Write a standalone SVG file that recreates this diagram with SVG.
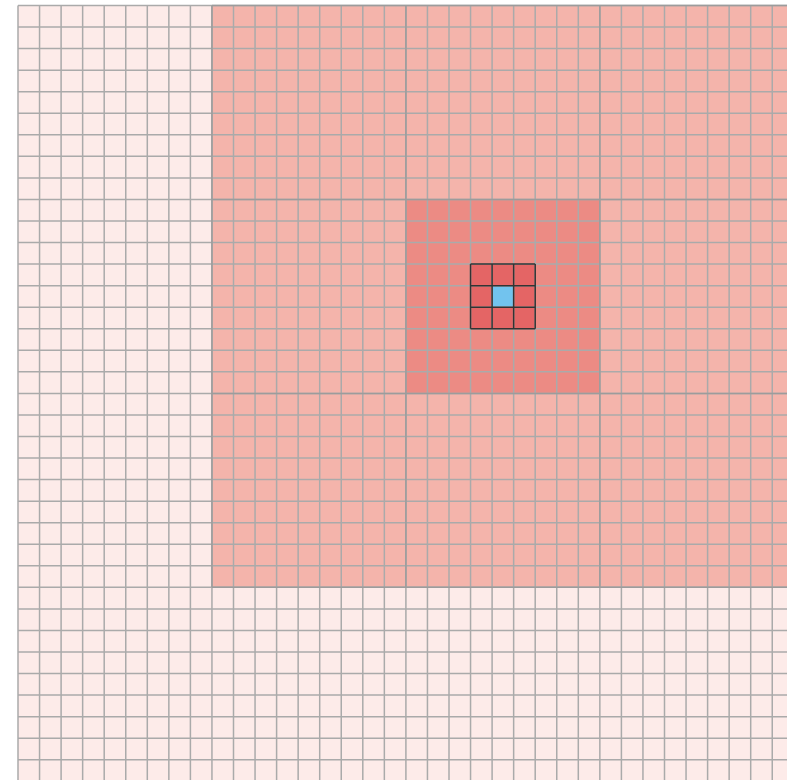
<svg xmlns="http://www.w3.org/2000/svg" width="787" height="780" viewBox="0 0 787 780">
<style>
.light{fill:#fdebe9}
.mid{fill:#f4b4ab}
.core{fill:#ec8b84}
.inner{fill:#e46565}
.blue{fill:#72c3ee}
.grid{stroke:#aaaaaa;stroke-width:1.5;fill:none}
.block{stroke:#9c9c9c;stroke-width:1.5;fill:none}
.dark{stroke:#333333;stroke-width:1.5;fill:none}
</style>
<rect width="787" height="780" fill="#ffffff"/>
<g id="background">
<rect class="light" x="18" y="5.5" width="776" height="776"/>
</g>
<g id="outer-region">
<rect class="mid" x="211.95" y="5.5" width="582" height="581.85"/>
</g>
<g id="center-region">
<rect class="core" x="405.9" y="199.45" width="193.95" height="193.95"/>
</g>
<g id="neighbourhood">
<rect class="inner" x="470.55" y="264.1" width="64.65" height="64.65"/>
<rect class="blue" x="492.1" y="285.65" width="21.55" height="21.55"/>
</g>
<g id="grid">
<path class="grid" d="M18 5.5V781M39.55 5.5V781M61.1 5.5V781M82.65 5.5V781M104.2 5.5V781M125.75 5.5V781M147.3 5.5V781M168.85 5.5V781M190.4 5.5V781M211.95 5.5V781M233.5 5.5V781M255.05 5.5V781M276.6 5.5V781M298.15 5.5V781M319.7 5.5V781M341.25 5.5V781M362.8 5.5V781M384.35 5.5V781M405.9 5.5V781M427.45 5.5V781M449 5.5V781M470.55 5.5V781M492.1 5.5V781M513.65 5.5V781M535.2 5.5V781M556.75 5.5V781M578.3 5.5V781M599.85 5.5V781M621.4 5.5V781M642.95 5.5V781M664.5 5.5V781M686.05 5.5V781M707.6 5.5V781M729.15 5.5V781M750.7 5.5V781M772.25 5.5V781"/>
<path class="grid" d="M18 5.5H787M18 27.05H787M18 48.6H787M18 70.15H787M18 91.7H787M18 113.25H787M18 134.8H787M18 156.35H787M18 177.9H787M18 199.45H787M18 221H787M18 242.55H787M18 264.1H787M18 285.65H787M18 307.2H787M18 328.75H787M18 350.3H787M18 371.85H787M18 393.4H787M18 414.95H787M18 436.5H787M18 458.05H787M18 479.6H787M18 501.15H787M18 522.7H787M18 544.25H787M18 565.8H787M18 587.35H787M18 608.9H787M18 630.45H787M18 652H787M18 673.55H787M18 695.1H787M18 716.65H787M18 738.2H787M18 759.75H787"/>
</g>
<g id="block-borders">
<path class="block" d="M211.95 5.5V587.35M405.9 5.5V587.35M599.85 5.5V587.35M211.95 5.5H787M211.95 199.45H787M211.95 393.4H787M211.95 587.35H787"/>
</g>
<g id="neighbourhood-outline">
<path class="dark" d="M470.55 264.1H535.2M470.55 285.65H535.2M470.55 307.2H535.2M470.55 328.75H535.2M470.55 264.1V328.75M492.1 264.1V328.75M513.65 264.1V328.75M535.2 264.1V328.75"/>
</g>
</svg>
